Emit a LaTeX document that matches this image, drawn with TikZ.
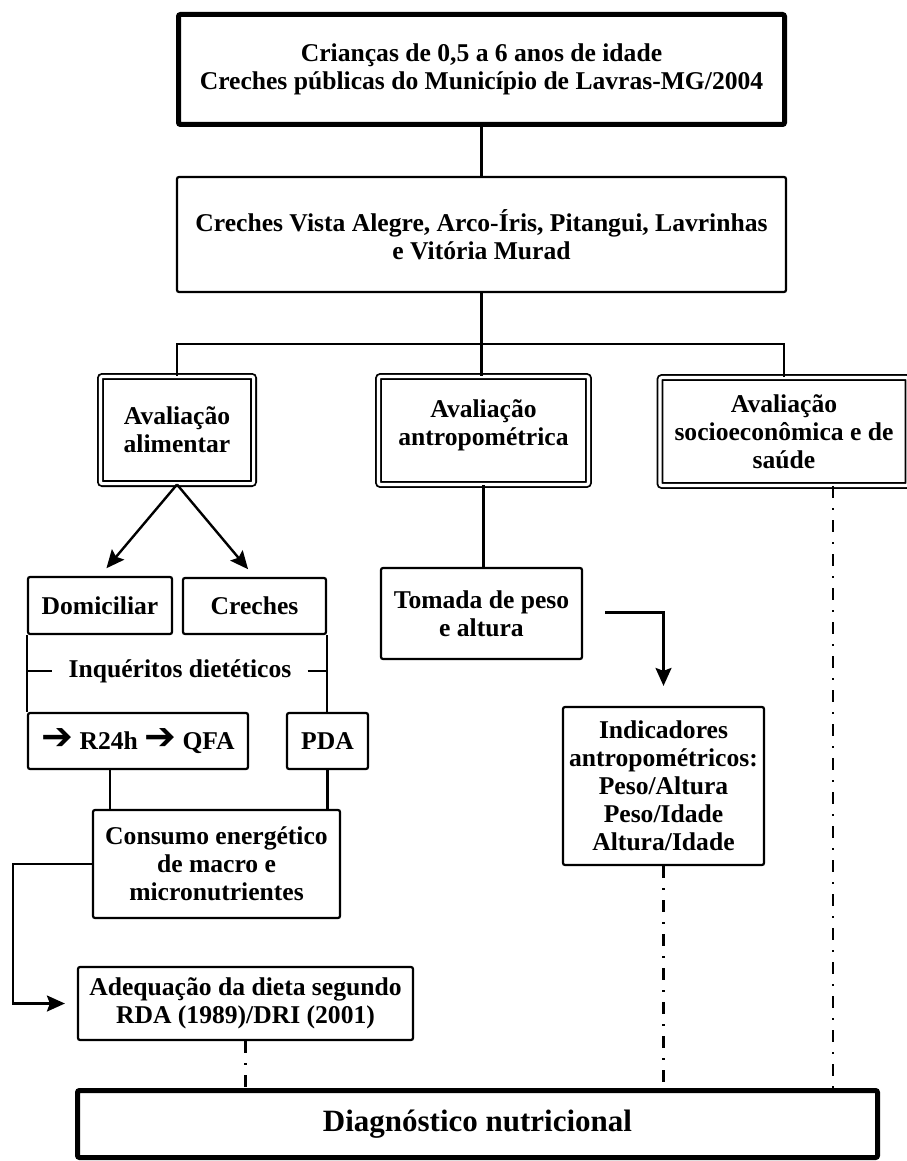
\documentclass[tikz,border=0pt]{standalone}
\usepackage{fontspec}
\setmainfont{Liberation Serif}
\newfontfamily\arrowfont{DejaVu Sans}
\usetikzlibrary{positioning,calc,arrows.meta}

\begin{document}
\begin{tikzpicture}[
    x=0.5pt, y=-0.5pt,
    box/.style={draw, line width=1.1pt, rounded corners=1pt, align=center, inner sep=2pt,
        font=\bfseries\fontsize{12.8}{14}\selectfont},
    bigbox/.style={box, line width=2.5pt},
    dbox/.style={box, double, line width=0.9pt, double distance=1.6pt},
    link/.style={line width=1.2pt},
    arr/.style={line width=1.2pt, -{Stealth[length=9pt,width=8pt,inset=1.5pt]}},
    dashdot/.style={line width=1.1pt, dash pattern=on 6pt off 5pt on 1pt off 5pt},
]
\useasboundingbox (0,0) rectangle (906,1161);

% Top boxes
\node[bigbox, minimum width=303pt, minimum height=55pt] (crian) at (481.5,69.5)
    {Crianças de 0,5 a 6 anos de idade\\Creches públicas do Município de Lavras-MG/2004};
\node[box, minimum width=304.5pt, minimum height=57.5pt] (lista) at (481.5,234.5)
    {Creches Vista Alegre, Arco-Íris, Pitangui, Lavrinhas\\e Vitória Murad};

% Three evaluations
\node[dbox, minimum width=76.6pt, minimum height=53.6pt] (alim) at (177,430) {Avaliação\\alimentar};
\node[dbox, minimum width=105pt, minimum height=54pt, text depth=8pt] (antrop) at (483.5,430.5) {Avaliação\\antropométrica};
\node[dbox, minimum width=124pt, minimum height=54pt] (socio) at (784,431.5) {Avaliação\\socioeconômica e de\\saúde};

% Dietary branch
\node[box, minimum width=72pt, minimum height=28.5pt] (domic) at (100,605.5) {Domiciliar};
\node[box, minimum width=71.5pt, minimum height=28pt] (crech) at (254.5,606) {Creches};
\node[font=\bfseries\fontsize{12.8}{14}\selectfont, inner sep=8pt] (inq) at (180,671) {Inquéritos dietéticos};
\node[box, minimum width=110pt, minimum height=28pt] (r24) at (138,741)
    {{\arrowfont\fontsize{19}{14}\selectfont ➔} R24h {\arrowfont\fontsize{19}{14}\selectfont ➔} QFA};
\node[box, minimum width=40.5pt, minimum height=28pt] (pda) at (327.5,741) {PDA};
\node[box, minimum width=123.5pt, minimum height=54pt] (consumo) at (216.5,864)
    {Consumo energético\\de macro e\\micronutrientes};
\node[box, minimum width=167.5pt, minimum height=36.5pt] (adeq) at (245.5,1003.5)
    {Adequação da dieta segundo\\RDA (1989)/DRI (2001)};

% Anthropometric branch
\node[box, minimum width=100.5pt, minimum height=45.5pt] (tomada) at (481.5,613.5) {Tomada de peso\\e altura};
\node[box, minimum width=100.5pt, minimum height=79pt] (indic) at (663.5,786)
    {Indicadores\\antropométricos:\\Peso/Altura\\Peso/Idade\\Altura/Idade};

% Result
\node[bigbox, minimum width=400pt, minimum height=33.5pt, font=\bfseries\fontsize{15.5}{17}\selectfont]
    (diag) at (477.5,1124) {Diagnóstico nutricional};

% Tree lines
\coordinate (split) at (481.5,344);
\draw[link] (crian) -- (lista);
\draw[link] (lista.south) -- (split);
\draw[link] (alim.north) |- (split) -| (socio.north);
\draw[link] (split) -- (split |- antrop.north);

% Dietary links
\draw[arr, shorten >=5pt] (alim.south) -- (domic.north);
\draw[arr, shorten >=5pt] (alim.south) -- (crech.north);
\draw[link] (domic.south west) -- (r24.north west);
\draw[link] (crech.south east) -- (crech.south east |- pda.north);
\draw[link] (inq.west -| domic.west) -- (inq.west);
\draw[link] (inq.east) -- (inq.east -| crech.east);
\coordinate (r24a) at ($(r24.south west)!0.375!(r24.south east)$);
\draw[link] (r24a) -- (r24a |- consumo.north);
\draw[link] (pda.south) -- (pda.south |- consumo.north);
\draw[arr, shorten >=6pt] (consumo.west) -- ++(-79,0) |- (adeq.west);

% Anthropometric links
\draw[link] (antrop.south) -- (antrop.south |- tomada.north);
\coordinate (tout) at ($(tomada.east)+(22,-1)$);
\coordinate (tin) at ($(indic.north)+(0,-20)$);
\draw[arr] (tout) -| (tin);

% Into the diagnosis
\draw[dashdot] (adeq.south) -- (adeq.south |- diag.north);
\draw[dashdot] (indic.south) -- (indic.south |- diag.north);
\coordinate (sdrop) at ($(socio.south)+(49,0)$);
\draw[dashdot] (sdrop) -- (sdrop |- diag.north);
\end{tikzpicture}
\end{document}
